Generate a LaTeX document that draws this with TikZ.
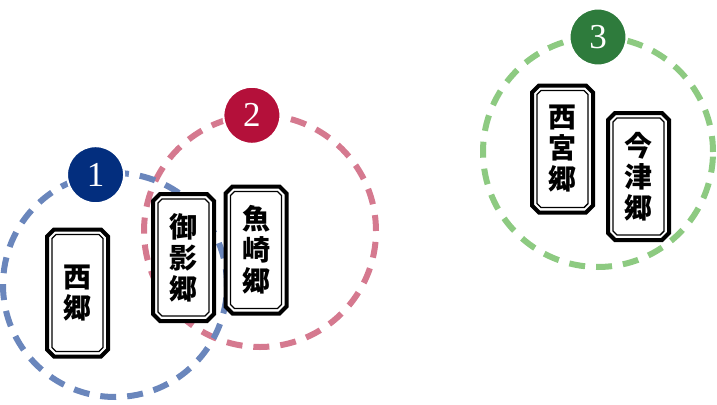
\documentclass[tikz,border=0pt]{standalone}
\usepackage{fontspec}
\newfontfamily\jpfont{Noto Sans CJK JP}
\newfontfamily\numfont{Liberation Serif}
\usetikzlibrary{positioning}
\definecolor{ringblue}{HTML}{6A86BC}
\definecolor{ringpink}{HTML}{D5798F}
\definecolor{ringgreen}{HTML}{8DCA81}
\definecolor{badgeblue}{HTML}{032E7E}
\definecolor{badgepink}{HTML}{B4103A}
\definecolor{badgegreen}{HTML}{2E7B3C}
\tikzset{
  ring/.style={circle, draw=#1, line width=6pt, dash pattern=on 16pt off 11pt,
    outer sep=0pt, inner sep=0pt},
  badge/.style={circle, fill=#1, draw=white, line width=2pt, minimum size=57pt,
    inner sep=0pt, text=white, font=\numfont\fontsize{35}{35}\selectfont},
  gobox/.style={rectangle, minimum width=61pt, minimum height=127pt,
    inner sep=0pt, outer sep=0pt},
  goname/.style={rectangle, minimum width=51pt, minimum height=117pt,
    inner sep=0pt, outer sep=0pt, align=center,
    font=\jpfont\bfseries\fontsize{28}{31}\selectfont},
  outerframe/.style={draw, fill=white, line width=4pt, line join=miter},
  innerframe/.style={draw, line width=1.4pt, line join=miter}
}
% octagonal frame round a node: node, chamfer, style
\newcommand{\octframe}[3]{%
  \path[#3]
    ([xshift=#2]#1.north west) -- ([xshift=-#2]#1.north east)
    -- ([yshift=-#2]#1.north east) -- ([yshift=#2]#1.south east)
    -- ([xshift=-#2]#1.south east) -- ([xshift=#2]#1.south west)
    -- ([yshift=#2]#1.south west) -- ([yshift=-#2]#1.north west) -- cycle;}
\begin{document}
\begin{tikzpicture}[x=1pt,y=-1pt]
\useasboundingbox (0,0) rectangle (717,404);
%% rings
\node[ring=ringpink, minimum size=232pt] (ring2) at (260,231) {};
\node[ring=ringblue, minimum size=224pt] (ring1) at (115,285) {};
\node[ring=ringgreen, minimum size=230pt] (ring3) at (598,152) {};
%% badges
\node[badge=badgeblue] (badge1) at (ring1.100) {1};
\node[badge=badgepink] (badge2) at (ring2.94) {2};
\node[badge=badgegreen] (badge3) at (ring3.90) {3};
%%%%%%%%%%%%%%%%%%%%%%%%%%%%%%%%%%%%%
\node[gobox] (nishibox) at (77.5,293) {};
\octframe{nishibox}{7pt}{outerframe}
\node[goname] (nishi) at (nishibox) {西\\郷};
\octframe{nishi}{4pt}{innerframe}
%
\node[gobox] (mikagebox) at (183.5,257.5) {};
\octframe{mikagebox}{7pt}{outerframe}
\node[goname] (mikage) at (mikagebox) {御\\影\\郷};
\octframe{mikage}{4pt}{innerframe}
%
\node[gobox] (uozakibox) at (256,250) {};
\octframe{uozakibox}{7pt}{outerframe}
\node[goname] (uozaki) at (uozakibox) {魚\\崎\\郷};
\octframe{uozaki}{4pt}{innerframe}
%%%%%%%%%%%%%%%%%%%%%%%%%%%%%%%%%%%%%
\node[gobox] (nishinomiyabox) at (562.5,149) {};
\octframe{nishinomiyabox}{7pt}{outerframe}
\node[goname] (nishinomiya) at (nishinomiyabox) {西\\宮\\郷};
\octframe{nishinomiya}{4pt}{innerframe}
%
\node[gobox] (imazubox) at (638.5,176.5) {};
\octframe{imazubox}{7pt}{outerframe}
\node[goname] (imazu) at (imazubox) {今\\津\\郷};
\octframe{imazu}{4pt}{innerframe}
\end{tikzpicture}
\end{document}
